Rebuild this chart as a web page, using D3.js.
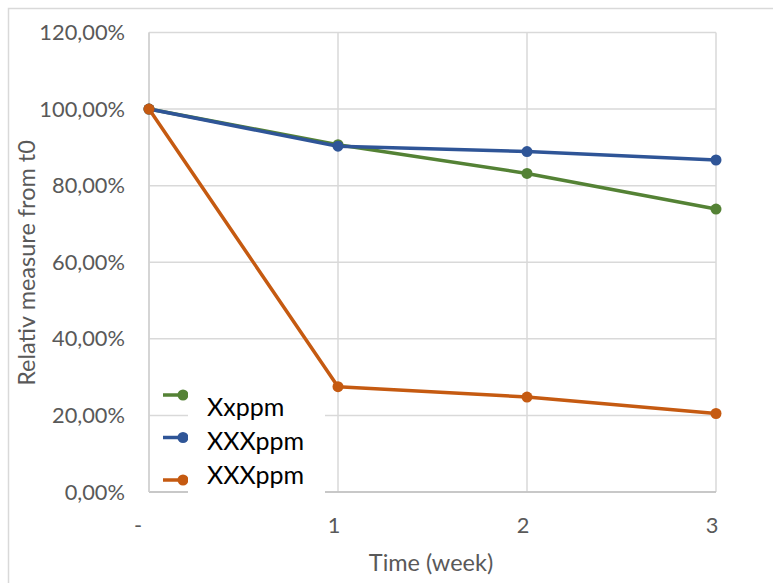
<!DOCTYPE html>
<html><head><meta charset="utf-8">
<script src="https://cdn.jsdelivr.net/npm/d3@7"></script>
<style>body{margin:0;background:#fff}svg{display:block}</style>
</head><body>
<script>
const categories = ["-", "1", "2", "3"];
const seriesNames = ["Xxppm", "XXXppm", "XXXppm"];
const green = [100, 90.7, 83.2, 73.9];
const blue = [100, 90.3, 88.9, 86.7];
const orange = [100, 27.5, 24.8, 20.5];
const yTicks = [0, 20, 40, 60, 80, 100, 120];
const colors = ["#548235", "#2F5597", "#C55A11"];
const series = [green, blue, orange];

const W = 773, H = 583;
const svg = d3.select("body").append("svg").attr("width", W).attr("height", H);
const font = "Lato, 'Open Sans', sans-serif";

svg.append("rect").attr("x", 8.5).attr("y", 8.5).attr("width", W + 10).attr("height", H + 10)
  .attr("fill", "#fff").attr("stroke", "#d9d9d9").attr("stroke-width", 1.5);

const x = d3.scalePoint().domain(categories).range([149, 716]);
const y = d3.scaleLinear().domain([0, 120]).range([492, 32.5]);

// grid
svg.append("g").selectAll("line").data(yTicks).join("line")
  .attr("x1", 149).attr("x2", 716).attr("y1", d => y(d)).attr("y2", d => y(d))
  .attr("stroke", "#d9d9d9").attr("stroke-width", 1.5);
svg.append("g").selectAll("line").data(categories).join("line")
  .attr("x1", d => x(d)).attr("x2", d => x(d)).attr("y1", y(0)).attr("y2", y(120))
  .attr("stroke", "#d9d9d9").attr("stroke-width", 1.5);
// axis line
svg.append("line").attr("x1", 149).attr("x2", 716).attr("y1", y(0)).attr("y2", y(0))
  .attr("stroke", "#bfbfbf").attr("stroke-width", 1.5);
svg.append("line").attr("x1", 149).attr("x2", 149).attr("y1", y(0)).attr("y2", y(120))
  .attr("stroke", "#d0d0d0").attr("stroke-width", 1.5);

// y tick labels
const fmt = v => d3.format(".2f")(v).replace(".", ",") + "%";
svg.append("g").selectAll("text").data(yTicks).join("text")
  .attr("x", 125).attr("y", d => y(d)).attr("dy", "0.35em").attr("text-anchor", "end")
  .attr("font-family", font).attr("font-size", 21.8).attr("fill", "#595959").text(fmt);

// x tick labels
const xOff = {"-": -11, "1": -4, "2": -4, "3": -4};
svg.append("g").selectAll("text").data(categories).join("text")
  .attr("x", d => x(d) + xOff[d]).attr("y", 525).attr("dy", "0.35em").attr("text-anchor", "middle")
  .attr("font-family", font).attr("font-size", 21.8).attr("fill", "#595959").text(d => d);

// axis titles
svg.append("text").attr("x", 431).attr("y", 563).attr("dy", "0.35em").attr("text-anchor", "middle")
  .attr("font-family", font).attr("font-size", 23.5).attr("fill", "#595959").text("Time (week)");
svg.append("text").attr("transform", "translate(27,263) rotate(-90)").attr("dy", "0.35em")
  .attr("text-anchor", "middle").attr("font-family", font).attr("font-size", 23.5).attr("fill", "#595959")
  .text("Relativ measure from t0");

// lines
const line = d3.line().x((d, i) => x(categories[i])).y(d => y(d));
series.forEach((s, k) => {
  svg.append("path").datum(s).attr("d", line).attr("fill", "none")
    .attr("stroke", colors[k]).attr("stroke-width", 3.5).attr("stroke-linejoin", "round");
  svg.append("g").selectAll("circle").data(s).join("circle")
    .attr("cx", (d, i) => x(categories[i])).attr("cy", d => y(d)).attr("r", 5.5).attr("fill", colors[k]);
});

// legend
const lg = svg.append("g");
seriesNames.forEach((n, k) => {
  const ly = 395 + k * 42.5;
  lg.append("line").attr("x1", 163).attr("x2", 186).attr("y1", ly).attr("y2", ly)
    .attr("stroke", colors[k]).attr("stroke-width", 3.5);
  lg.append("circle").attr("cx", 183).attr("cy", ly).attr("r", 5.5).attr("fill", colors[k]);
});
lg.append("rect").attr("x", 188).attr("y", 378).attr("width", 137).attr("height", 122).attr("fill", "#fff");
seriesNames.forEach((n, k) => {
  const ly = 407 + k * 34;
  lg.append("text").attr("x", 207).attr("y", ly).attr("dy", "0.35em")
    .attr("font-family", font).attr("font-size", 25).attr("fill", "#000").text(n);
});
</script>
</body></html>
